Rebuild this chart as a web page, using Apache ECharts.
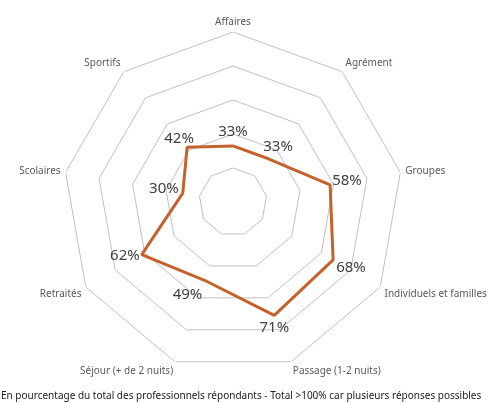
<!DOCTYPE html>
<html>
<head>
<meta charset="utf-8">
<script src="https://cdn.jsdelivr.net/npm/echarts@6/dist/echarts.min.js"></script>
<style>
  html, body { margin: 0; padding: 0; background: #fff; }
  #main { width: 499px; height: 403px; }
</style>
</head>
<body>
<div id="main"></div>
<script>
const categories = [
    'Affaires',
    'Agrément',
    'Groupes',
    'Individuels et familles',
    'Passage (1-2 nuits)',
    'Séjour (+ de 2 nuits)',
    'Retraités',
    'Scolaires',
    'Sportifs',
]
const values = [33, 33, 58, 68, 71, 49, 62, 30, 42]
const ringLevels = [20, 40, 60, 80, 100]
const footNote =
    'En pourcentage du total des professionnels répondants - Total >100% car plusieurs réponses possibles'

// where each percentage sits around its point (Excel-like)
const labelPlacement = [
    { position: 'top', offset: [0, -2] },
    { position: 'top', offset: [9, 0] },
    { position: 'right', distance: 2, offset: [0, -4] },
    { position: 'right', distance: 3, offset: [0, 8] },
    { position: 'bottom', distance: 5, offset: [0, 0] },
    { position: 'bottom', distance: 5, offset: [-17, 2] },
    { position: 'left', distance: 2, offset: [0, 1] },
    { position: 'left', distance: 4, offset: [0, -4] },
    { position: 'top', distance: 1, offset: [-8, 0] },
]

const n = categories.length

// angle axis runs 0..n, so index n lands back on the first spoke
const closeLoop = pts => pts.concat([{ ...pts[0], value: [pts[0].value[0], n] }])

const ringSeries = ringLevels.map(level => ({
    type: 'line',
    coordinateSystem: 'polar',
    silent: true,
    symbol: 'none',
    lineStyle: { color: '#c0c0c0', width: 1 },
    data: closeLoop(categories.map((c, i) => ({ value: [level, i] }))),
    z: 1,
}))

const mainData = closeLoop(
    values.map((v, i) => ({
        value: [v, i],
        label: labelPlacement[i],
    }))
)
mainData[n].label = { show: false }

const chart = echarts.init(document.getElementById('main'))
chart.setOption({
    animation: false,
    backgroundColor: '#fff',
    title: {
        text: footNote,
        left: 0,
        bottom: 0,
        padding: [0, 0, 2, 1],
        textStyle: {
            fontFamily: 'Noto Sans',
            fontSize: 10,
            fontWeight: 'normal',
            color: '#1a1a1a',
        },
    },
    polar: {
        center: [233, 202],
        radius: 170,
    },
    angleAxis: {
        type: 'value',
        min: 0,
        max: n,
        interval: 1,
        startAngle: 90,
        clockwise: true,
        axisLine: { show: false },
        axisTick: { show: false },
        splitLine: { show: false },
        axisLabel: {
            margin: 5,
            color: '#595959',
            fontFamily: 'Noto Sans',
            fontSize: 10,
            formatter: v => categories[v] || '',
        },
    },
    radiusAxis: {
        min: 0,
        max: 100,
        interval: 20,
        axisLine: { show: false },
        axisTick: { show: false },
        axisLabel: { show: false },
        splitLine: { show: false },
    },
    series: [
        ...ringSeries,
        {
            type: 'line',
            coordinateSystem: 'polar',
            silent: true,
            symbol: 'circle',
            symbolSize: 0.1,
            itemStyle: { color: '#c5612a' },
            lineStyle: { color: '#c5612a', width: 3 },
            label: {
                show: true,
                formatter: p => p.value[0] + '%',
                color: '#404040',
                fontFamily: 'Noto Sans',
                fontSize: 15,
            },
            data: mainData,
            z: 3,
        },
    ],
})
</script>
</body>
</html>
